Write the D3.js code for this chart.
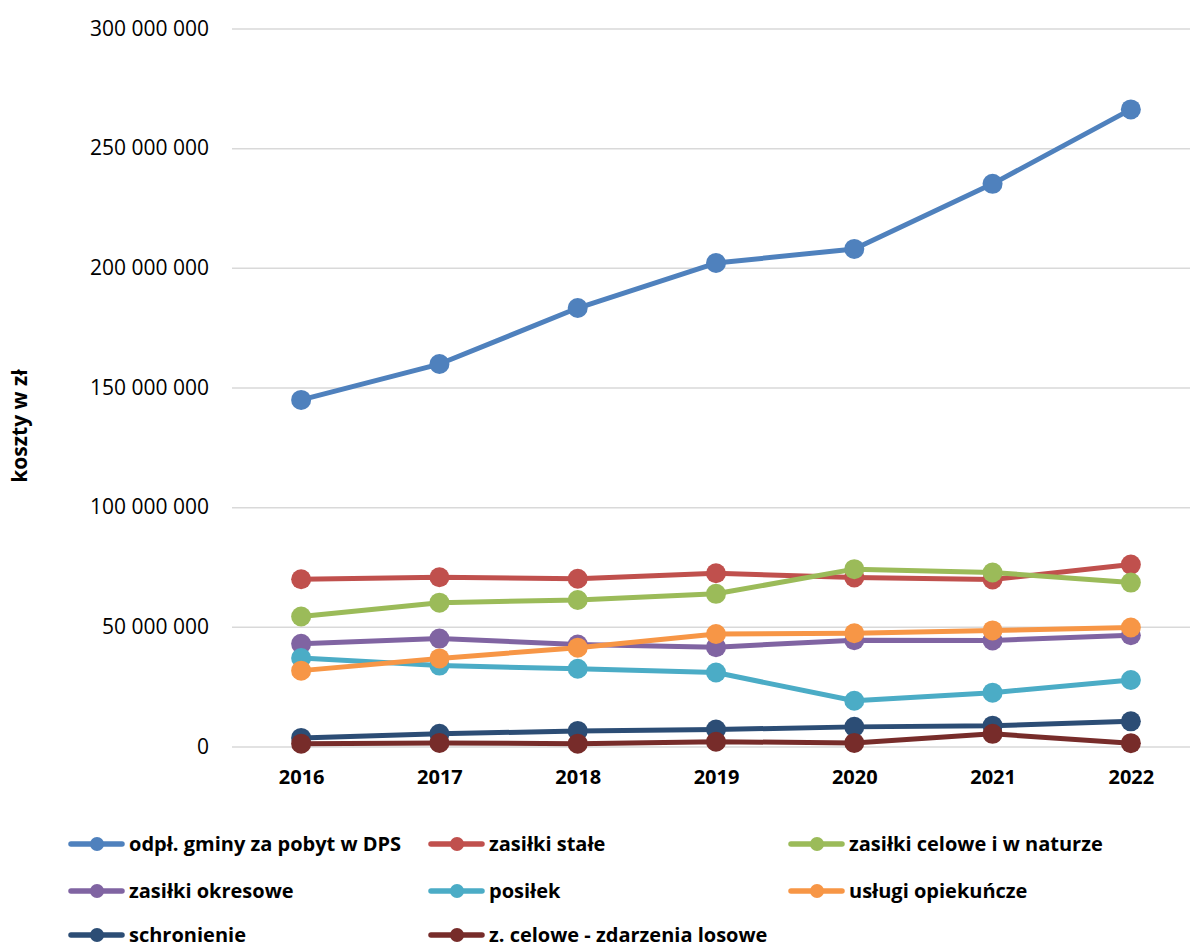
<!DOCTYPE html>
<html lang="pl">
<head>
<meta charset="UTF-8">
<script src="https://cdn.jsdelivr.net/npm/d3@7"></script>
<title>Koszty</title>
<style>
  body { margin: 0; background: #fff; }
  svg { font-family: "Open Sans", "DejaVu Sans", sans-serif; }
</style>
</head>
<body>
<script>
var width = 1190;
var height = 949;

var years = ["2016", "2017", "2018", "2019", "2020", "2021", "2022"];
var yTicks = [0, 50000000, 100000000, 150000000, 200000000, 250000000, 300000000];

var seriesNames = [
  "odpł. gminy za pobyt w DPS",
  "zasiłki stałe",
  "zasiłki celowe i w naturze",
  "zasiłki okresowe",
  "posiłek",
  "usługi opiekuńcze",
  "schronienie",
  "z. celowe - zdarzenia losowe"
];
var colors = ["#4F81BD", "#C0504D", "#9BBB59", "#8064A2", "#4BACC6", "#F79646", "#2C4D75", "#772C2A"];

var dps        = [144800000, 159800000, 183200000, 202000000, 207900000, 235100000, 266200000];
var stale      = [69900000, 70700000, 70100000, 72400000, 70600000, 69800000, 76000000];
var celowe     = [54300000, 60100000, 61200000, 63800000, 74100000, 72700000, 68500000];
var okresowe   = [42900000, 45100000, 42600000, 41500000, 44400000, 44300000, 46500000];
var posilek    = [37000000, 33800000, 32500000, 30900000, 19100000, 22500000, 27800000];
var opiekuncze = [31700000, 36800000, 41300000, 47000000, 47300000, 48500000, 49700000];
var schronienie = [3600000, 5300000, 6500000, 7100000, 8200000, 8700000, 10500000];
var losowe     = [1200000, 1500000, 1200000, 2000000, 1500000, 5300000, 1400000];

var allValues = [dps, stale, celowe, okresowe, posilek, opiekuncze, schronienie, losowe];

var x = d3.scalePoint().domain(years).range([232, 1200]).padding(0.5);
var y = d3.scaleLinear().domain([0, 300000000]).range([746.5, 28.5]);

var svg = d3.select("body").append("svg").attr("width", width).attr("height", height);

var fmt = function (d) { return d3.format(",")(d).replace(/,/g, " "); };

// grid + y labels
var yAxis = svg.append("g").attr("transform", "translate(232,0)")
  .call(d3.axisLeft(y).tickValues(yTicks).tickSize(-968).tickPadding(23).tickFormat(fmt));
yAxis.select(".domain").remove();
yAxis.selectAll(".tick line").attr("stroke", "#d9d9d9").attr("stroke-width", 1.5);
yAxis.selectAll(".tick text").attr("font-size", 21).attr("fill", "#000")
  .attr("font-family", "Open Sans, sans-serif");

// x labels
var xAxis = svg.append("g").attr("transform", "translate(0,746.5)")
  .call(d3.axisBottom(x).tickSize(0).tickPadding(23).tickFormat(function (d) { return d; }));
xAxis.select(".domain").remove();
xAxis.selectAll(".tick text").attr("font-size", 20).attr("font-weight", "bold").attr("fill", "#000")
  .attr("font-family", "Open Sans, sans-serif");

// y axis title
svg.append("text")
  .attr("transform", "translate(27,426) rotate(-90)")
  .attr("text-anchor", "middle")
  .attr("font-size", 21).attr("font-weight", "bold")
  .text("koszty w zł");

var line = d3.line()
  .x(function (d, i) { return x(years[i]); })
  .y(function (d) { return y(d); });

allValues.forEach(function (vals, k) {
  var g = svg.append("g");
  g.append("path").datum(vals)
    .attr("d", line).attr("fill", "none")
    .attr("stroke", colors[k]).attr("stroke-width", 5).attr("stroke-linejoin", "round");
  g.selectAll("circle").data(vals).enter().append("circle")
    .attr("cx", function (d, i) { return x(years[i]); })
    .attr("cy", function (d) { return y(d); })
    .attr("r", 10).attr("fill", colors[k]);
});

// legend
var colX = [69, 429, 789];
var rowY = [844, 891, 935];
seriesNames.forEach(function (name, k) {
  var lx = colX[k % 3], ly = rowY[Math.floor(k / 3)];
  var g = svg.append("g").attr("transform", "translate(" + lx + "," + ly + ")");
  g.append("line").attr("x1", 2).attr("x2", 53).attr("stroke", colors[k])
    .attr("stroke-width", 5.5).attr("stroke-linecap", "round");
  g.append("circle").attr("cx", 28).attr("r", 7).attr("fill", colors[k]);
  g.append("text").attr("x", 60).attr("dy", "0.35em")
    .attr("font-size", 20).attr("font-weight", "bold").text(name);
});
</script>
</body>
</html>
